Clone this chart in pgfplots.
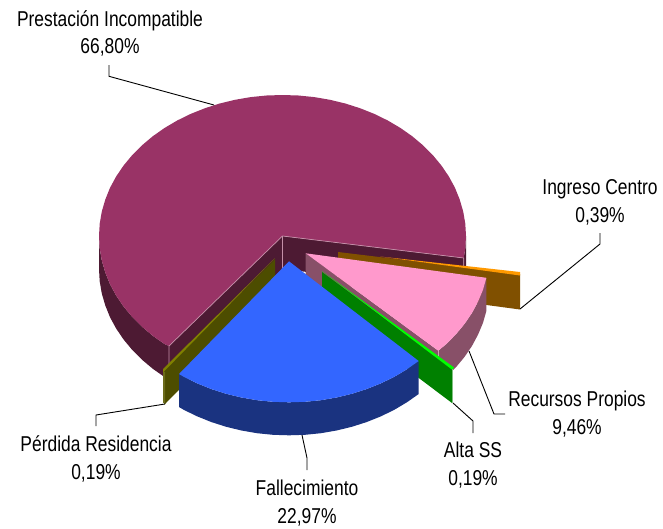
\documentclass[border=0pt]{standalone}
\usepackage{pgfplots}
\usepackage{fontspec}
\setmainfont[FakeStretch=0.81]{Liberation Sans}
\pgfplotsset{compat=1.18}
\definecolor{mainTop}{HTML}{993366}
\definecolor{mainSide}{HTML}{4D1A33}
\definecolor{edgeMain}{HTML}{C48FA8}
\definecolor{oliveWall}{HTML}{4D4D00}
\definecolor{oliveTop}{HTML}{808000}
\definecolor{oliveEdge}{HTML}{6B6B1A}
\definecolor{orangeWall}{HTML}{805000}
\definecolor{orangeTop}{HTML}{FF9900}
\definecolor{pinkTop}{HTML}{FF99CC}
\definecolor{pinkSide}{HTML}{885068}
\definecolor{pinkEdge}{HTML}{C8A0B4}
\definecolor{greenWall}{HTML}{008000}
\definecolor{greenTop}{HTML}{00FF00}
\definecolor{greenEdge}{HTML}{80C080}
\definecolor{blueTop}{HTML}{3366FF}
\definecolor{blueSide}{HTML}{1A3380}
\tikzset{
  parea/.style={draw=none, fill=#1},
  pedge/.style={draw=#1, line width=0.7pt},
  pleader/.style={draw=black, line width=0.9pt},
  plab/.style={anchor=base, text=black, font=\fontsize{21.5}{24}\selectfont, inner sep=0pt},
}
\begin{document}
\begin{tikzpicture}
\begin{axis}[
  scale only axis, width=663pt, height=528pt,
  xmin=0, xmax=663, ymin=0, ymax=528, y dir=reverse,
  hide axis, clip=false, no markers,
]
% corners of the canvas
\addplot[draw=none] coordinates {(0,0) (663,528)};

% ---- Prestacion Incompatible: walls
\addplot[parea=mainSide] coordinates {(99,236) (99.7,248.3) (101.8,260.5) (105.3,272.5) (110,284.2) (116.2,295.6) (123.6,306.5) (132.2,316.9) (142,326.7) (152.7,335.7) (164.5,344) (169,346) (169,379) (164.5,377) (152.7,368.7) (142,359.7) (132.2,349.9) (123.6,339.5) (116.2,328.6) (110,317.2) (105.3,305.5) (101.8,293.5) (99.7,281.3) (99,269)};
\addplot[parea=mainSide] coordinates {(282.5,236) (169,346) (169,379) (282.5,269)};
\addplot[parea=mainSide] coordinates {(282.5,236) (463.7,258) (463.7,291) (282.5,269)};
\addplot[parea=mainSide] coordinates {(466,236) (465.3,248.3) (463.7,258) (463.7,291) (466,269)};
% top face
\addplot[parea=mainTop] coordinates {(282.5,236) (463.7,258) (465.3,248.3) (466,236) (465.3,223.7) (463.2,211.5) (459.7,199.5) (455,187.8) (448.8,176.4) (441.4,165.5) (432.8,155.1) (423,145.3) (412.3,136.3) (400.5,128) (387.8,120.5) (374.3,113.9) (360,108.2) (345.3,103.5) (330,99.8) (314.4,97.1) (298.5,95.5) (282.5,95) (266.5,95.5) (250.6,97.1) (235,99.8) (219.7,103.5) (205,108.2) (190.7,113.9) (177.2,120.5) (164.5,128) (152.7,136.3) (142,145.3) (132.2,155.1) (123.6,165.5) (116.2,176.4) (110,187.8) (105.3,199.5) (101.8,211.5) (99.7,223.7) (99,236) (99.7,248.3) (101.8,260.5) (105.3,272.5) (110,284.2) (116.2,295.6) (123.6,306.5) (132.2,316.9) (142,326.7) (152.7,335.7) (164.5,344) (169,346)};
\addplot[pedge=edgeMain] coordinates {(169,379) (169,346) (282.5,236) (463.7,258) (463.7,291)};
\addplot[pedge=edgeMain] coordinates {(282.5,236) (282.5,269)};

% ---- Ingreso Centro
\addplot[parea=orangeWall] coordinates {(338,252) (520,274) (520,309.5) (338,285)};
\addplot[parea=orangeTop] coordinates {(380,256.5) (520,272) (520,275.5)};

% ---- Recursos Propios
\addplot[parea=pinkSide] coordinates {(305.7,253.3) (438.3,350.7) (438.3,383.7) (305.7,286.3)};
\addplot[parea=pinkSide] coordinates {(486.4,277.8) (483,289.8) (478.1,301.5) (472,312.9) (464.6,323.8) (456,334.2) (446.3,344) (438.3,350.7) (438.3,383.7) (446.3,377) (456,367.2) (464.6,356.8) (472,345.9) (478.1,334.5) (483,322.8) (486.4,310.8)};
\addplot[parea=pinkTop] coordinates {(305.7,253.3) (486.4,277.8) (483,289.8) (478.1,301.5) (472,312.9) (464.6,323.8) (456,334.2) (446.3,344) (438.3,350.7)};
\addplot[pedge=pinkEdge] coordinates {(438.3,350.7) (438.3,362)};

% ---- Perdida Residencia
\addplot[parea=oliveWall] coordinates {(275,259) (163,371) (163,402) (165,404) (275,293)};
\addplot[parea=oliveEdge] coordinates {(163,371) (165,372) (165,404) (163,402)};
\addplot[parea=oliveTop] coordinates {(275,258) (163,369) (163,372.5)};

% ---- Alta SS
\addplot[parea=greenWall] coordinates {(322,272) (452,368.5) (452,403) (322,305)};
\addplot[parea=greenTop] coordinates {(322,271) (454,367.5) (452.5,370)};
\addplot[pedge=greenEdge] coordinates {(452.3,369) (452.3,403)};

% ---- Fallecimiento
\addplot[parea=blueSide] coordinates {(179,374) (183.7,376.8) (197.3,383.4) (211.5,389.1) (226.2,393.8) (241.5,397.5) (257.1,400.2) (273,401.8) (289,402.3) (305,401.8) (320.9,400.2) (336.5,397.5) (351.8,393.8) (366.5,389.1) (380.8,383.4) (394.3,376.8) (406.9,369.3) (418.7,361) (418.7,394) (406.9,402.3) (394.3,409.8) (380.8,416.4) (366.5,422.1) (351.8,426.8) (336.5,430.5) (320.9,433.2) (305,434.8) (289,435.3) (273,434.8) (257.1,433.2) (241.5,430.5) (226.2,426.8) (211.5,422.1) (197.3,416.4) (183.7,409.8) (179,407)};
\addplot[parea=blueTop] coordinates {(289,261.3) (418.7,361) (406.9,369.3) (394.3,376.8) (380.8,383.4) (366.5,389.1) (351.8,393.8) (336.5,397.5) (320.9,400.2) (305,401.8) (289,402.3) (273,401.8) (257.1,400.2) (241.5,397.5) (226.2,393.8) (211.5,389.1) (197.3,383.4) (183.7,376.8) (179,374)};

% ---- leader lines
\addplot[pleader] coordinates {(109,65) (109,76.3) (214,105)};
\addplot[pleader] coordinates {(600,233) (600,244) (520,309)};
\addplot[pleader] coordinates {(469,351) (494,414) (505,414)};
\addplot[pleader] coordinates {(453,403) (473,421) (473,433)};
\addplot[pleader] coordinates {(302,435) (307,458) (307,470)};
\addplot[pleader] coordinates {(165,404) (96,415) (96,426)};

% ---- labels
\node[plab] at (axis cs:110,26) {Prestación Incompatible};
\node[plab] at (axis cs:110,53.5) {66,80\%};
\node[plab] at (axis cs:600,194) {Ingreso Centro};
\node[plab] at (axis cs:600,222) {0,39\%};
\node[plab] at (axis cs:577,406.7) {Recursos Propios};
\node[plab] at (axis cs:577,434) {9,46\%};
\node[plab] at (axis cs:473,457) {Alta SS};
\node[plab] at (axis cs:473,485) {0,19\%};
\node[plab] at (axis cs:307,495) {Fallecimiento};
\node[plab] at (axis cs:307,523) {22,97\%};
\node[plab] at (axis cs:96,451) {Pérdida Residencia};
\node[plab] at (axis cs:96,479) {0,19\%};
\end{axis}
\end{tikzpicture}
\end{document}
